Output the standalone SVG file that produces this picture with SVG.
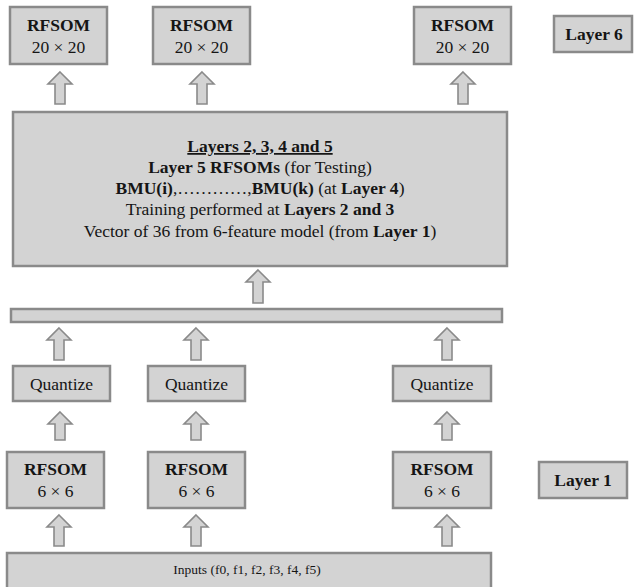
<svg xmlns="http://www.w3.org/2000/svg" width="636" height="587" viewBox="0 0 636 587" font-family="'Liberation Serif', 'Times New Roman', 'DejaVu Serif', serif">
<style>
.box{fill:#d3d3d3;stroke:#8a8a8a;stroke-width:2.5}
.arr{fill:#d3d3d3;stroke:#8a8a8a;stroke-width:1.6;stroke-linejoin:miter}
text{font-family:'Liberation Serif','Times New Roman','DejaVu Serif',serif;fill:#151515;text-anchor:middle}
.t{font-size:17.5px}
.m{font-size:17.5px}
.s{font-size:13.5px}
.b{font-weight:bold}
</style>
<rect width="636" height="587" fill="#ffffff"/>
<g id="rfsom6-1"><rect class="box" x="10" y="7" width="97" height="57"/><text class="t b" x="58.5" y="31">RFSOM</text><text class="t" x="58.5" y="53">20 × 20</text></g>
<g id="rfsom6-2"><rect class="box" x="153" y="7" width="97" height="57"/><text class="t b" x="201.5" y="31">RFSOM</text><text class="t" x="201.5" y="53">20 × 20</text></g>
<g id="rfsom6-3"><rect class="box" x="414" y="7" width="97" height="57"/><text class="t b" x="462.5" y="31">RFSOM</text><text class="t" x="462.5" y="53">20 × 20</text></g>
<g id="layer6"><rect class="box" x="554" y="16" width="78" height="36"/><text class="t b" x="594" y="40">Layer 6</text></g>
<g id="middle"><rect class="box" x="13" y="112" width="494" height="154"/>
<text class="m b" x="260" y="152" text-decoration="underline">Layers 2, 3, 4 and 5</text>
<text class="m" x="260" y="173"><tspan class="b">Layer 5 RFSOMs</tspan> (for Testing)</text>
<text class="m" x="260" y="194"><tspan class="b">BMU(i)</tspan>,…………,<tspan class="b">BMU(k)</tspan> (at <tspan class="b">Layer 4</tspan>)</text>
<text class="m" x="260" y="215">Training performed at <tspan class="b">Layers 2 and 3</tspan></text>
<text class="m" x="260" y="237">Vector of 36 from 6-feature model (from <tspan class="b">Layer 1</tspan>)</text>
</g>
<g id="bar"><rect class="box" x="11" y="309" width="491" height="13"/></g>
<g id="quantize-1"><rect class="box" x="13" y="366" width="97" height="35"/><text class="t" x="61.5" y="390">Quantize</text></g>
<g id="quantize-2"><rect class="box" x="148" y="366" width="97" height="35"/><text class="t" x="196.5" y="390">Quantize</text></g>
<g id="quantize-3"><rect class="box" x="393" y="366" width="98" height="35"/><text class="t" x="442" y="390">Quantize</text></g>
<g id="rfsom1-1"><rect class="box" x="7" y="452" width="97" height="56"/><text class="t b" x="55.5" y="475">RFSOM</text><text class="t" x="55.5" y="497">6 × 6</text></g>
<g id="rfsom1-2"><rect class="box" x="148" y="452" width="97" height="56"/><text class="t b" x="196.5" y="475">RFSOM</text><text class="t" x="196.5" y="497">6 × 6</text></g>
<g id="rfsom1-3"><rect class="box" x="393" y="452" width="98" height="56"/><text class="t b" x="442" y="475">RFSOM</text><text class="t" x="442" y="497">6 × 6</text></g>
<g id="layer1"><rect class="box" x="539" y="462" width="88" height="36"/><text class="t b" x="583" y="486">Layer 1</text></g>
<g id="inputs"><rect class="box" x="7" y="553" width="484" height="40"/><text class="s" x="247" y="574">Inputs (f0, f1, f2, f3, f4, f5)</text></g>
<g id="connectors">
<path class="arr" d="M60,72 L72,84 L65,84 L65,104 L55,104 L55,84 L48,84 Z"/>
<path class="arr" d="M202,72 L214,84 L207,84 L207,104 L197,104 L197,84 L190,84 Z"/>
<path class="arr" d="M463,72 L475,84 L468,84 L468,104 L458,104 L458,84 L451,84 Z"/>
<path class="arr" d="M258,270 L270,282 L263,282 L263,303 L253,303 L253,282 L246,282 Z"/>
<path class="arr" d="M59,328 L71,340 L64,340 L64,360 L54,360 L54,340 L47,340 Z"/>
<path class="arr" d="M196,328 L208,340 L201,340 L201,360 L191,360 L191,340 L184,340 Z"/>
<path class="arr" d="M447,328 L459,340 L452,340 L452,360 L442,360 L442,340 L435,340 Z"/>
<path class="arr" d="M60,412 L72,424 L65,424 L65,440 L55,440 L55,424 L48,424 Z"/>
<path class="arr" d="M196,412 L208,424 L201,424 L201,440 L191,440 L191,424 L184,424 Z"/>
<path class="arr" d="M447,412 L459,424 L452,424 L452,440 L442,440 L442,424 L435,424 Z"/>
<path class="arr" d="M59,515 L71,527 L64,527 L64,546 L54,546 L54,527 L47,527 Z"/>
<path class="arr" d="M196,515 L208,527 L201,527 L201,546 L191,546 L191,527 L184,527 Z"/>
<path class="arr" d="M447,515 L459,527 L452,527 L452,546 L442,546 L442,527 L435,527 Z"/>
</g>
</svg>
